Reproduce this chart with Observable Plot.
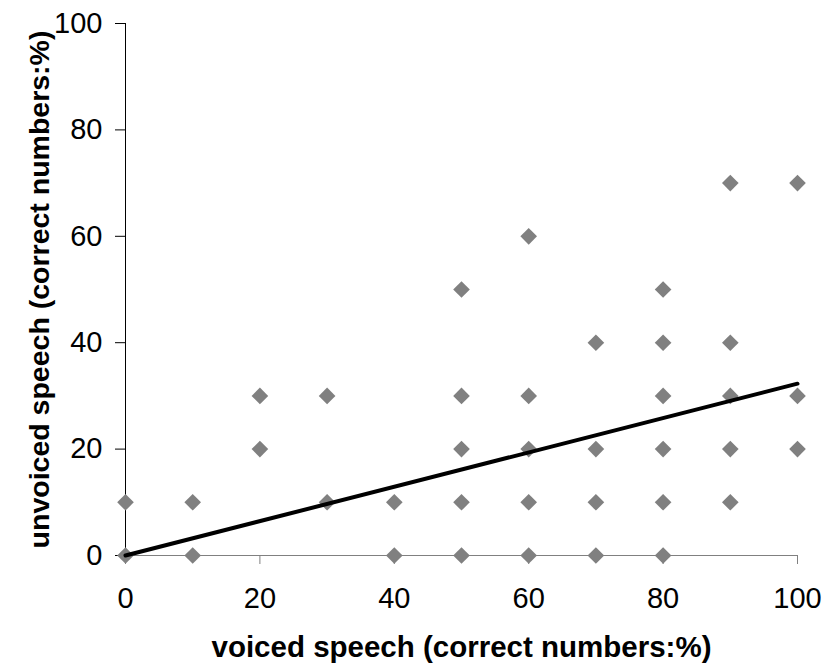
<!DOCTYPE html>
<html><head><meta charset="utf-8">
<script src="https://cdn.jsdelivr.net/npm/d3@7"></script>
<script src="https://cdn.jsdelivr.net/npm/@observablehq/plot@0.6"></script>
<style>body{margin:0;background:#fff}</style>
</head><body><div id="chart"></div>
<script>
const voiced   = [0,0, 10,10, 20,20, 30,30, 40,40, 50,50,50,50,50, 60,60,60,60,60, 70,70,70,70, 80,80,80,80,80,80, 90,90,90,90,90, 100,100,100];
const unvoiced = [0,10, 0,10, 20,30, 10,30, 0,10, 0,10,20,30,50, 0,10,20,30,60, 0,10,20,40, 0,10,20,30,40,50, 10,20,30,40,70, 20,30,70];
const trendX = [0, 100];
const trendY = [0, 32.3];
const xTicks = [0, 20, 40, 60, 80, 100];
const yTicks = [0, 20, 40, 60, 80, 100];
const xTitle = "voiced speech (correct numbers:%)";
const yTitle = "unvoiced speech (correct numbers:%)";

const points = voiced.map((v, i) => ({x: v, y: unvoiced[i]}));
const trend = trendX.map((v, i) => ({x: v, y: trendY[i]}));

const chart = Plot.plot({
  width: 825,
  height: 671,
  marginLeft: 125,
  marginRight: 28,
  marginTop: 23,
  marginBottom: 116,
  style: {fontFamily: "'Liberation Sans', Arial, sans-serif", fontSize: "29px", background: "#fff", color: "#000"},
  x: {domain: [0, 100]},
  y: {domain: [0, 100]},
  marks: [
    Plot.axisX({ticks: xTicks, tickSize: 9, tickFormat: () => "", stroke: "#808080", label: null}),
    Plot.axisY({ticks: yTicks, tickSize: 10, tickFormat: () => "", stroke: "#000", label: null}),
    Plot.text(xTicks, {x: d => d, y: 0, dy: 32, lineAnchor: "top", textAnchor: "middle", fontSize: 29, text: d => String(d)}),
    Plot.text(yTicks, {x: 0, y: d => d, dx: -23, textAnchor: "end", fontSize: 29, text: d => String(d)}),
    Plot.ruleY([0], {stroke: "#808080", strokeWidth: 1}),
    Plot.ruleX([0], {stroke: "#000", strokeWidth: 1}),
    Plot.dot(points, {x: "x", y: "y", symbol: "diamond2", r: 7.5, fill: "#808080", stroke: "none"}),
    Plot.line(trend, {x: "x", y: "y", stroke: "#000", strokeWidth: 4}),
    Plot.text([xTitle], {frameAnchor: "bottom", dy: 101, fontSize: 29.5, fontWeight: "bold", textAnchor: "middle", text: d => d}),
    Plot.text([yTitle], {frameAnchor: "left", dx: -86, rotate: -90, fontSize: 28.5, fontWeight: "bold", textAnchor: "middle", text: d => d})
  ]
});
document.getElementById("chart").appendChild(chart);
</script>
</body></html>
